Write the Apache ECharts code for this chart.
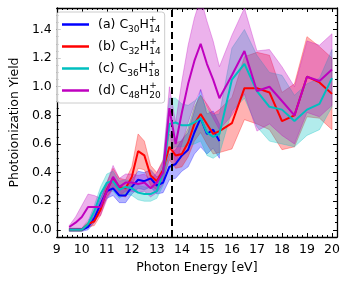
<!DOCTYPE html>
<html>
<head>
<meta charset="utf-8">
<script src="https://cdn.jsdelivr.net/npm/echarts@6/dist/echarts.min.js"></script>
<style>
html,body{margin:0;padding:0;background:#fff;}
#chart{width:347px;height:282px;}
</style>
</head>
<body>
<div id="chart"></div>
<script>
// ---- data ----
const energy = [9.5, 9.75, 10.0, 10.25, 10.5, 10.75, 11.0, 11.25, 11.5, 11.75, 12.0, 12.25, 12.5, 12.75, 13.0, 13.25, 13.5, 13.75, 14.0, 14.25, 14.5, 14.75, 15.0, 15.25, 15.5, 16.0, 16.5, 17.0, 17.5, 18.0, 18.5, 19.0, 19.5, 20.0];

const yieldA = [0, 0, 0, 0.02, 0.08, 0.18, 0.27, 0.29, 0.24, 0.24, 0.30, 0.35, 0.34, 0.36, 0.31, 0.33, 0.44, 0.46, 0.52, 0.56, 0.68, 0.78, 0.67, 0.70, 0.62];
const errA   = [0.01, 0.01, 0.01, 0.02, 0.03, 0.04, 0.05, 0.05, 0.05, 0.05, 0.05, 0.06, 0.06, 0.06, 0.06, 0.07, 0.09, 0.10, 0.11, 0.12, 0.15, 0.20, 0.14, 0.13, 0.12];

const yieldB = [0, 0, 0, 0.04, 0.06, 0.14, 0.28, 0.36, 0.30, 0.29, 0.37, 0.55, 0.52, 0.38, 0.34, 0.42, 0.58, 0.52, 0.53, 0.61, 0.74, 0.81, 0.74, 0.67, 0.69, 0.745, 0.99, 0.99, 0.96, 0.76, 0.80, 1.07, 1.03, 0.95];
const errB   = [0.01, 0.01, 0.01, 0.02, 0.03, 0.04, 0.05, 0.07, 0.06, 0.06, 0.07, 0.12, 0.10, 0.07, 0.06, 0.07, 0.09, 0.09, 0.09, 0.10, 0.12, 0.13, 0.14, 0.14, 0.15, 0.18, 0.22, 0.25, 0.26, 0.20, 0.22, 0.28, 0.25, 0.25];

const yieldC = [0, 0, 0, 0.04, 0.13, 0.25, 0.33, 0.34, 0.28, 0.30, 0.29, 0.26, 0.25, 0.25, 0.27, 0.40, 0.74, 0.75, 0.73, 0.73, 0.75, 0.78, 0.68, 0.65, 0.67, 1.05, 1.16, 0.97, 0.86, 0.84, 0.76, 0.84, 0.88, 1.06];
const errC   = [0.01, 0.01, 0.01, 0.02, 0.04, 0.05, 0.06, 0.07, 0.06, 0.05, 0.05, 0.05, 0.05, 0.05, 0.05, 0.09, 0.18, 0.17, 0.15, 0.14, 0.15, 0.16, 0.16, 0.15, 0.14, 0.22, 0.24, 0.25, 0.24, 0.24, 0.18, 0.18, 0.18, 0.20];

const yieldD = [0.02, 0.05, 0.09, 0.16, 0.16, 0.16, 0.27, 0.37, 0.30, 0.33, 0.33, 0.32, 0.33, 0.29, 0.33, 0.40, 0.85, 0.60, 0.82, 1.02, 1.18, 1.30, 1.16, 1.05, 0.92, 1.08, 1.25, 0.97, 1.00, 0.90, 0.80, 1.07, 1.04, 1.12];
const errD   = [0.01, 0.04, 0.08, 0.09, 0.08, 0.06, 0.06, 0.08, 0.06, 0.06, 0.06, 0.06, 0.06, 0.06, 0.07, 0.08, 0.15, 0.15, 0.22, 0.27, 0.30, 0.32, 0.30, 0.27, 0.22, 0.28, 0.30, 0.28, 0.26, 0.24, 0.20, 0.25, 0.25, 0.25];

const seriesNames = ['a', 'b', 'c', 'd'];
const legendTags = ['(a)', '(b)', '(c)', '(d)'];
const carbonCounts = ['30', '32', '36', '48'];
const hydrogenCounts = ['14', '14', '18', '20'];
const thresholdEnergy = 13.6;

const xTickLabels = ['9','10','11','12','13','14','15','16','17','18','19','20'];
const yTickLabels = ['0.0','0.2','0.4','0.6','0.8','1.0','1.2','1.4'];

// ---- styling ----
const colors = ['#0000ff', '#ff0000', '#00bfbf', '#bf00bf'];
const FONT = 'DejaVu Sans';
const FS = 12.5;
const xMin = 9, xMax = 20.2, yMin = -0.05, yMax = 1.55;

function rgba(hex, a) {
  const r = parseInt(hex.slice(1,3),16), g = parseInt(hex.slice(3,5),16), b = parseInt(hex.slice(5,7),16);
  return `rgba(${r},${g},${b},${a})`;
}

const groups = [
  {y: yieldA, e: errA},
  {y: yieldB, e: errB},
  {y: yieldC, e: errC},
  {y: yieldD, e: errD}
];

const series = [];
groups.forEach((g, k) => {
  const xs = energy.slice(0, g.y.length);
  series.push({
    type: 'custom',
    name: 'band_' + seriesNames[k],
    coordinateSystem: 'cartesian2d',
    clip: true,
    silent: true,
    z: 1,
    encode: {x: 0, y: [1, 2]},
    data: xs.map((v, i) => [v, g.y[i] - g.e[i], g.y[i] + g.e[i]]),
    renderItem: function (params, api) {
      if (params.dataIndex !== 0) return null;
      const up = [], lo = [];
      for (let i = 0; i < xs.length; i++) {
        up.push(api.coord([xs[i], g.y[i] + g.e[i]]));
        lo.push(api.coord([xs[i], g.y[i] - g.e[i]]));
      }
      return {
        type: 'polygon',
        shape: {points: up.concat(lo.reverse())},
        style: {fill: rgba(colors[k], 0.3), stroke: rgba(colors[k], 0.3), lineWidth: 1}
      };
    }
  });
});
groups.forEach((g, k) => {
  const xs = energy.slice(0, g.y.length);
  series.push({
    type: 'line',
    name: seriesNames[k],
    data: xs.map((v, i) => [v, g.y[i]]),
    showSymbol: false,
    symbol: 'none',
    z: 3 + k,
    color: colors[k],
    lineStyle: {color: colors[k], width: 2},
    silent: true,
    animation: false
  });
});
series.push({
  type: 'line',
  name: 'threshold',
  data: [],
  z: 10,
  markLine: {
    silent: true,
    symbol: ['none', 'none'],
    label: {show: false},
    lineStyle: {color: '#000', width: 2, type: [7, 4]},
    data: [{xAxis: thresholdEnergy}]
  }
});

const axisLineStyle = {color: '#000', width: 1.3};
function xAx(position, major) {
  return {
    type: 'value', position: position, min: xMin, max: xMax,
    interval: major ? 1 : 0.2,
    axisLine: {show: major, onZero: false, lineStyle: axisLineStyle},
    axisTick: {show: true, inside: true, length: major ? 4 : 2, lineStyle: {color: '#000', width: 1}},
    axisLabel: {
      show: major && position === 'bottom', color: '#000', fontSize: FS, fontFamily: FONT, margin: 6,
      formatter: v => { const r = Math.round(v); return Math.abs(v - r) < 1e-6 && xTickLabels.includes(String(r)) ? String(r) : ''; }
    },
    splitLine: {show: false},
    name: (major && position === 'bottom') ? 'Photon Energy [eV]' : '',
    nameLocation: 'middle', nameGap: 24,
    nameTextStyle: {color: '#000', fontSize: FS, fontFamily: FONT}
  };
}
function yAx(position, major) {
  const ax = {
    type: 'value', position: position, min: yMin, max: yMax,
    axisLine: {show: major, onZero: false, lineStyle: axisLineStyle},
    axisTick: {show: true, inside: true, length: major ? 4 : 2, lineStyle: {color: '#000', width: 1}},
    axisLabel: {
      show: major && position === 'left', color: '#000', fontSize: FS, fontFamily: FONT, margin: 5,
      formatter: v => { const s = v.toFixed(1); return Math.abs(v * 5 - Math.round(v * 5)) < 1e-6 && yTickLabels.includes(s) ? s : ''; }
    },
    splitLine: {show: false},
    name: (major && position === 'left') ? 'Photoionization Yield' : '',
    nameLocation: 'middle', nameGap: 32,
    nameTextStyle: {color: '#000', fontSize: FS, fontFamily: FONT}
  };
  if (major) ax.splitNumber = 8; else ax.interval = 0.05;
  return ax;
}

const option = {
  animation: false,
  backgroundColor: '#fff',
  grid: {left: 52, right: 10, top: 8, bottom: 45, containLabel: false},
  xAxis: [xAx('bottom', true), xAx('top', true), xAx('bottom', false), xAx('top', false)],
  yAxis: [yAx('left', true), yAx('right', true), yAx('left', false), yAx('right', false)],
  legend: {
    data: seriesNames,
    left: 57, top: 12,
    orient: 'vertical',
    icon: 'rect',
    itemWidth: 27, itemHeight: 2.5, itemGap: 3,
    padding: [3, 4, 3, 5],
    selectedMode: false,
    backgroundColor: 'rgba(255,255,255,0.8)',
    borderColor: '#cccccc', borderWidth: 1, borderRadius: 3,
    formatter: name => {
      const i = seriesNames.indexOf(name);
      return `${legendTags[i]} C{sub|${carbonCounts[i]}}H{sup|+}{sub|${hydrogenCounts[i]}}`;
    },
    textStyle: {
      fontFamily: FONT, fontSize: FS, color: '#000', lineHeight: 19, padding: [0, 0, 0, 4],
      rich: {
        sub: {fontFamily: FONT, fontSize: 9, color: '#000', lineHeight: 10, verticalAlign: 'bottom'},
        sup: {fontFamily: FONT, fontSize: 9, color: '#000', lineHeight: 10, verticalAlign: 'top', width: 0}
      }
    }
  },
  series: series
};

const chart = echarts.init(document.getElementById('chart'), null, {renderer: 'canvas'});
chart.setOption(option);
</script>
</body>
</html>
